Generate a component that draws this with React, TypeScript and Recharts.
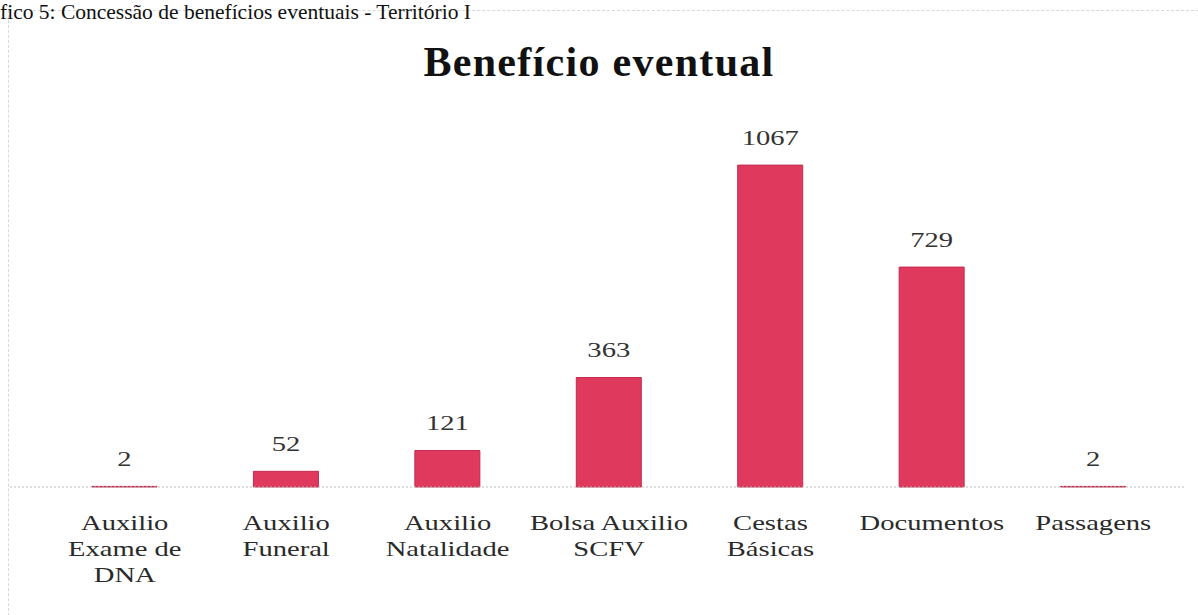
import React from "react";
import { BarChart, Bar, XAxis, YAxis, LabelList } from "recharts";

const categories = [
  "Auxilio\nExame de\nDNA",
  "Auxilio\nFuneral",
  "Auxilio\nNatalidade",
  "Bolsa Auxilio\nSCFV",
  "Cestas\nBásicas",
  "Documentos",
  "Passagens",
];
const values = [2, 52, 121, 363, 1067, 729, 2];

const data = categories.map((c, i) => ({ name: c, value: values[i] }));

const FONT = "'Liberation Serif', 'Times New Roman', serif";

const Tick = (props: any) => {
  const { x, y, payload } = props;
  const lines = String(payload.value).split("\n");
  return (
    <g transform={`translate(${x},${y}) scale(1.3,1)`}>
      {lines.map((l: string, i: number) => (
        <text
          key={i}
          x={0}
          y={35 + i * 26}
          textAnchor="middle"
          fill="#2a2a2a"
          fontFamily={FONT}
          fontSize={22}
        >
          {l}
        </text>
      ))}
    </g>
  );
};

const ValueLabel = (props: any) => {
  const { x, y, width, value } = props;
  const cx = Number(x) + Number(width) / 2;
  return (
    <g transform={`translate(${cx},${Number(y) - 20}) scale(1.3,1)`}>
      <text
        x={0}
        y={0}
        textAnchor="middle"
        fill="#333"
        fontFamily={FONT}
        fontSize={22}
      >
        {value}
      </text>
    </g>
  );
};

export default function App() {
  return (
    <div
      style={{
        position: "absolute",
        left: 0,
        top: 0,
        width: 1198,
        height: 615,
        background: "#fff",
        overflow: "hidden",
      }}
    >
      <div
        style={{
          position: "absolute",
          left: 8,
          top: 10,
          width: 1200,
          height: 620,
          borderLeft: "1px dashed #d8d8d8",
          borderTop: "1px dashed #d8d8d8",
        }}
      />
      <div
        style={{
          position: "absolute",
          left: 0,
          top: 0,
          fontFamily: FONT,
          fontSize: 21.5,
          lineHeight: "24px",
          color: "#111",
          whiteSpace: "nowrap",
        }}
      >
        fico 5: Concessão de benefícios eventuais - Território I
      </div>
      <div
        style={{
          position: "absolute",
          left: 0,
          width: 1198,
          top: 38,
          textAlign: "center",
          fontFamily: FONT,
          fontSize: 42,
          fontWeight: "bold",
          letterSpacing: 1.3,
          color: "#111",
        }}
      >
        Benefício eventual
      </div>
      <div style={{ position: "absolute", left: 0, top: 0 }}>
        <BarChart
          width={1198}
          height={615}
          data={data}
          margin={{ top: 125, right: 13, bottom: 28, left: 10 }}
        >
          <XAxis
            dataKey="name"
            interval={0}
            height={100}
            tickLine={false}
            axisLine={{ stroke: "#bdbdbd", strokeDasharray: "2 2" }}
            tick={<Tick />}
            padding={{ left: 34, right: 11 }}
          />
          <YAxis hide domain={[0, 1200]} />
          <Bar
            dataKey="value"
            fill="#E0395E"
            stroke="#c42a4c"
            strokeWidth={1}
            barSize={65}
            isAnimationActive={false}
          >
            <LabelList dataKey="value" content={<ValueLabel />} />
          </Bar>
        </BarChart>
      </div>
    </div>
  );
}
